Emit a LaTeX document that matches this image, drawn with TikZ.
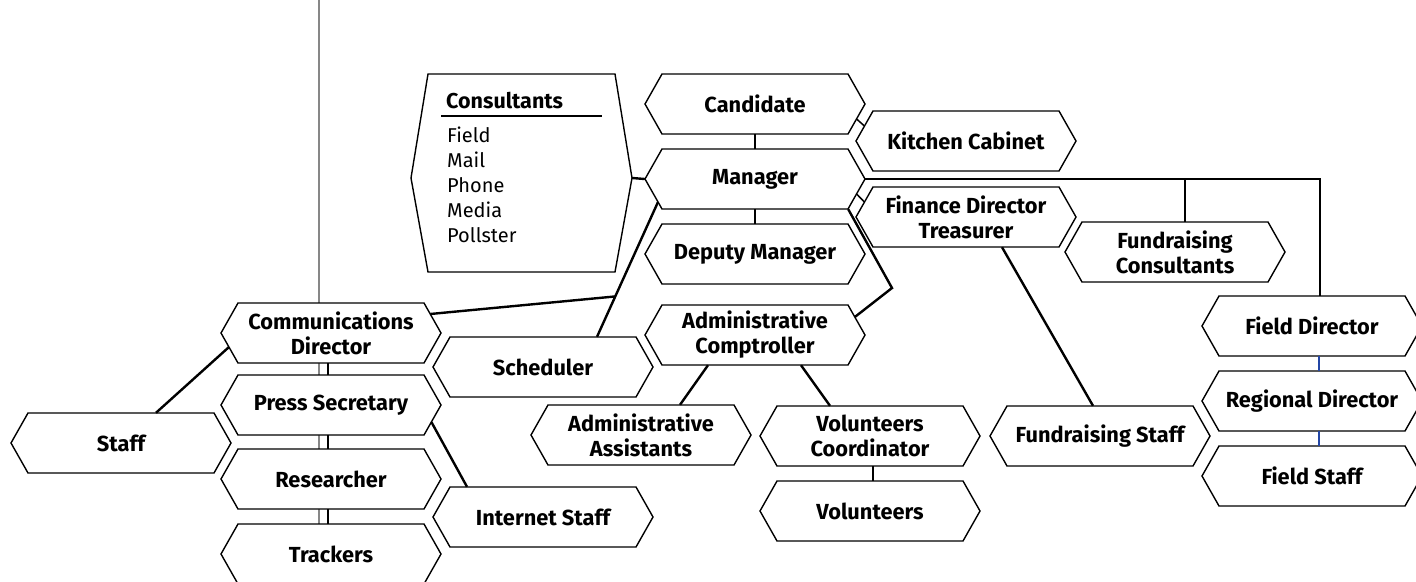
\documentclass[tikz,border=0pt]{standalone}
\usepackage{fontspec}
\setmainfont{Fira Sans}
\usetikzlibrary{calc}
\definecolor{fieldblue}{RGB}{35,70,165}
\definecolor{divider}{RGB}{135,135,135}
% hexagonal box: name, centre x, centre y, label
\newcommand\hexnode[4]{%
  \path[hexline] (#2-93,#3-30) -- (#2+93,#3-30) -- (#2+110,#3) --
    (#2+93,#3+30) -- (#2-93,#3+30) -- (#2-110,#3) -- cycle;
  \node[hexlabel] (#1) at (#2,#3) {#4};
}
\begin{document}
\begin{tikzpicture}[x=1pt,y=-1pt,
  hexline/.style={draw=black,line width=1.4pt,fill=white,line join=miter},
  hexlabel/.style={rectangle,minimum width=220pt,minimum height=60pt,inner sep=0pt,
    align=center,font=\bfseries\fontsize{21.8}{25}\selectfont},
  plainlabel/.style={inner sep=0pt,font=\fontsize{20}{25}\selectfont},
  link/.style={draw=black,line width=2.4pt},
  tick/.style={draw=black,line width=1.5pt},
  fieldlink/.style={draw=fieldblue,line width=2.4pt},
]
\useasboundingbox (0,0) rectangle (1416,581);
\clip (0,0) rectangle (1416,581);

% vertical divider
\draw[divider,line width=2.2pt] (319,0) -- (319,581);

% consultants panel
\path[hexline] (428,74) -- (615,74) -- (632,178) -- (615,272) -- (428,272) -- (411,178) -- cycle;
\node[plainlabel,font=\bfseries\fontsize{21.5}{25}\selectfont,anchor=base west] (conshead) at (446,108) {Consultants};
\draw[line width=1.2pt] (441,116) -- (602,116);
\foreach \t [count=\i] in {Field,Mail,Phone,Media,Pollster}
  \node[plainlabel,anchor=base west] (cl\i) at (447,117+25*\i) {\t};
\coordinate (consE) at (632,178);

% central column
\hexnode{cand}{755}{104}{Candidate}
\hexnode{kit}{966}{141}{Kitchen Cabinet}
\hexnode{mgr}{755}{179}{Manager}
\hexnode{fin}{966}{217}{Finance Director\\Treasurer}
\hexnode{dep}{755}{254}{Deputy Manager}
\hexnode{fcons}{1175}{252}{Fundraising\\Consultants}
\hexnode{ac}{755}{335}{Administrative\\Comptroller}
\hexnode{aa}{641}{435}{Administrative\\Assistants}
\hexnode{vc}{870}{436}{Volunteers\\Coordinator}
\hexnode{vol}{870}{511}{Volunteers}
\hexnode{fstaff}{1100}{436}{Fundraising Staff}

% field column
\hexnode{fd}{1312}{326}{Field Director}
\hexnode{rd}{1312}{401}{Regional Director}
\hexnode{fs}{1312}{476}{Field Staff}

% communications column
\hexnode{cd}{331}{333}{Communications\\Director}
\hexnode{ps}{331}{405}{Press Secretary}
\hexnode{res}{331}{479}{Researcher}
\hexnode{trk}{331}{554}{Trackers}
\hexnode{staff}{121}{443}{Staff}
\hexnode{sch}{543}{367}{Scheduler}
\hexnode{inet}{543}{517}{Internet Staff}

% connectors
\draw[link] (consE) -- (mgr.west);
\draw[link] (cand.south) -- (mgr.north);
\draw[link] (mgr.south) -- (dep.north);
\draw[tick] ($(cand.east)!0.5!([xshift=-17pt]cand.south east)$) --
            ($([xshift=17pt]kit.north west)!0.5!(kit.west)$);
\draw[tick] ($(mgr.east)!0.5!([xshift=-17pt]mgr.south east)$) --
            ($([xshift=17pt]fin.north west)!0.5!(fin.west)$);
\draw[link] (mgr.east) -| ([xshift=8pt]fd.north);
\draw[link] ([xshift=10pt]fcons.north) -- ([xshift=10pt]fcons.north |- mgr.east);

\coordinate (mgrSW) at ($(mgr.west)!0.77!([xshift=17pt]mgr.south west)$);
\coordinate (j1) at ($(mgrSW)!0.70!([xshift=54pt]sch.north)$);
\draw[link] (mgrSW) -- ([xshift=54pt]sch.north);
\draw[link] (j1) -- ($([xshift=-17pt]cd.north east)!0.37!(cd.east)$);

\coordinate (kink) at (892,288);
\draw[link] ([xshift=-17pt]mgr.south east) -- (kink) --
            ($([xshift=-17pt]ac.north east)!0.4!(ac.east)$);

\draw[link] ([xshift=36pt]fin.south) -- ([xshift=-7pt]fstaff.north);
\draw[link] ([xshift=-47pt]ac.south) -- ([xshift=39pt]aa.north);
\draw[link] ([xshift=46pt]ac.south) -- ([xshift=-40pt]vc.north);
\draw[link] ([xshift=3pt]vc.south) -- ([xshift=3pt]vol.north);

\draw[link] ($(cd.west)!0.47!([xshift=17pt]cd.south west)$) -- ([xshift=35pt]staff.north);
\draw[link] ([xshift=-3pt]cd.south) -- ([xshift=-3pt]ps.north);
\draw[link] ([xshift=-3pt]ps.south) -- ([xshift=-3pt]res.north);
\draw[link] ([xshift=-3pt]res.south) -- ([xshift=-3pt]trk.north);
\draw[link] ($(ps.east)!0.57!([xshift=-17pt]ps.south east)$) -- ([xshift=-76pt]inet.north);

\draw[fieldlink] ([xshift=7pt]fd.south) -- ([xshift=7pt]rd.north);
\draw[fieldlink] ([xshift=7pt]rd.south) -- ([xshift=7pt]fs.north);
\end{tikzpicture}
\end{document}
